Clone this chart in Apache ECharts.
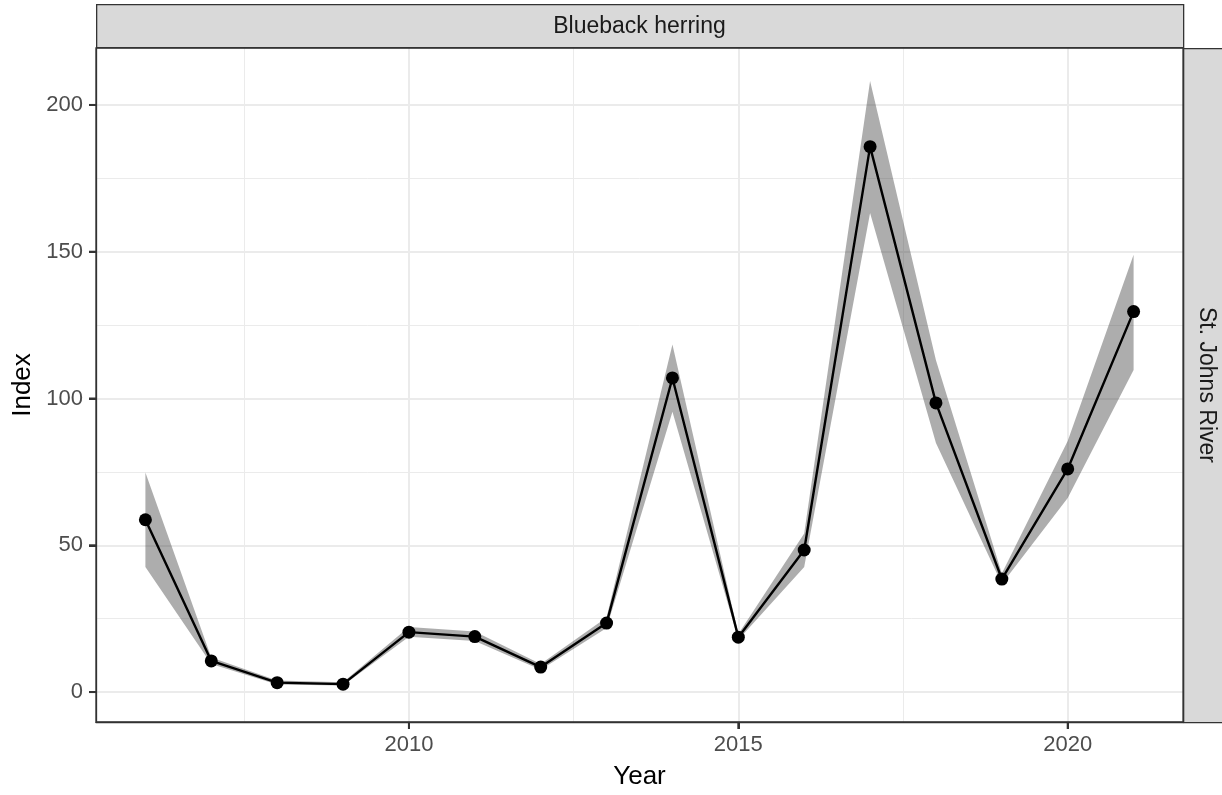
<!DOCTYPE html>
<html>
<head>
<meta charset="utf-8">
<script src="https://cdn.jsdelivr.net/npm/echarts@6/dist/echarts.min.js"></script>
<style>
html,body{margin:0;padding:0;background:#fff;}
#c{width:1222px;height:795px;}
</style>
</head>
<body>
<div id="c"></div>
<script>
const years = [2006,2007,2008,2009,2010,2011,2012,2013,2014,2015,2016,2017,2018,2019,2020,2021];
const indexValues = [58.7,10.6,3.2,2.7,20.4,18.9,8.5,23.5,107.0,18.7,48.4,185.8,98.5,38.5,76.0,129.6];
const lowerValues = [42.6,9.6,2.6,2.2,18.8,17.4,7.6,21.8,95.5,17.8,42.6,163.2,84.8,36.8,66.1,109.7];
const upperValues = [74.8,11.8,3.9,3.3,22.2,20.6,9.6,25.4,118.4,19.8,54.0,208.2,113.0,40.4,85.5,149.0];
const xMajorTicks = [2010,2015,2020];
const xMinorTicks = [2007.5,2012.5,2017.5];
const yMajorTicks = [0,50,100,150,200];
const yMinorTicks = [25,75,125,175];
const speciesLabel = 'Blueback herring';
const riverLabel = 'St. Johns River';

const FONT = 'Liberation Sans, Arial, sans-serif';
const chart = echarts.init(document.getElementById('c'), null, {renderer:'canvas'});
const G = {left:96, right:39, top:48, bottom:73};
const xMin = 2005.25, xMax = 2021.75, yMin = -10.2, yMax = 219.4;
const TICK = 7;

const option = {
  backgroundColor:'#ffffff',
  animation:false,
  grid:{left:G.left, right:G.right, top:G.top, bottom:G.bottom, show:true, borderColor:'#333333', borderWidth:1.3, backgroundColor:'transparent', z:10},
  xAxis:[{
    type:'value', min:xMin, max:xMax, position:'bottom',
    name:'Year', nameLocation:'middle', nameGap:42,
    nameTextStyle:{fontFamily:FONT, fontSize:26, color:'#000'},
    axisLine:{show:true, onZero:false, lineStyle:{color:'#333333', width:1.3}},
    axisTick:{show:true, length:TICK, lineStyle:{color:'#333333', width:2}, customValues:xMajorTicks},
    axisLabel:{color:'#4D4D4D', fontFamily:FONT, fontSize:22, margin:12, customValues:xMajorTicks, formatter:v=>String(v)},
    splitLine:{show:true, lineStyle:{color:'#EBEBEB', width:2}}
  },{
    type:'value', min:xMin, max:xMax, position:'top',
    axisLine:{show:false, onZero:false}, axisTick:{show:false, customValues:xMinorTicks},
    axisLabel:{show:false, customValues:xMinorTicks},
    splitLine:{show:true, lineStyle:{color:'#EBEBEB', width:1}}
  }],
  yAxis:[{
    type:'value', min:yMin, max:yMax, position:'left',
    name:'Index', nameLocation:'middle', nameGap:60, nameRotate:90,
    nameTextStyle:{fontFamily:FONT, fontSize:26, color:'#000'},
    axisLine:{show:true, onZero:false, lineStyle:{color:'#333333', width:1.3}},
    axisTick:{show:true, length:TICK, lineStyle:{color:'#333333', width:2}, customValues:yMajorTicks},
    axisLabel:{color:'#4D4D4D', fontFamily:FONT, fontSize:22, margin:13, customValues:yMajorTicks, formatter:v=>String(v)},
    splitLine:{show:true, lineStyle:{color:'#EBEBEB', width:2}}
  },{
    type:'value', min:yMin, max:yMax, position:'right',
    axisLine:{show:false, onZero:false}, axisTick:{show:false, customValues:yMinorTicks},
    axisLabel:{show:false, customValues:yMinorTicks},
    splitLine:{show:true, lineStyle:{color:'#EBEBEB', width:1}}
  }],
  series:[{
    type:'custom', xAxisIndex:0, yAxisIndex:0, data:[0], z:2, silent:true,
    renderItem:function(params, api){
      const pts = [];
      for (let i=0;i<years.length;i++) pts.push(api.coord([years[i], upperValues[i]]));
      for (let i=years.length-1;i>=0;i--) pts.push(api.coord([years[i], lowerValues[i]]));
      return {type:'polygon', shape:{points:pts}, style:{fill:'rgba(51,51,51,0.4)', stroke:null}};
    }
  },{
    type:'line', xAxisIndex:0, yAxisIndex:0, z:3,
    data: years.map((y,i)=>[y, indexValues[i]]),
    lineStyle:{color:'#000', width:2.4},
    symbol:'circle', symbolSize:13, showSymbol:true,
    itemStyle:{color:'#000', borderWidth:0}
  }],
  graphic:[
    {id:'stripTop', type:'rect', left:96, top:4, shape:{x:0,y:0,width:1087,height:43}, style:{fill:'#D9D9D9', stroke:'#333333', lineWidth:1.3}, z:20},
    {id:'stripTopText', type:'text', x:639.5, y:27, style:{text:speciesLabel, font:'23px Liberation Sans', fill:'#1A1A1A', textAlign:'center', textVerticalAlign:'middle'}, z:21},
    {id:'stripRight', type:'rect', left:1183, top:48, shape:{x:0,y:0,width:60,height:674}, style:{fill:'#D9D9D9', stroke:'#333333', lineWidth:1.3}, z:20},
    {id:'stripRightText', type:'text', x:1206, y:385, rotation:-Math.PI/2, style:{text:riverLabel, font:'23px Liberation Sans', fill:'#1A1A1A', textAlign:'center', textVerticalAlign:'middle'}, z:21}
  ]
};
chart.setOption(option);

// tick marks positioned through the chart's own axis scales
const tickGraphics = [];
xMajorTicks.forEach((v,i)=>{
  const p = chart.convertToPixel({xAxisIndex:0, yAxisIndex:0}, [v, yMin]);
  tickGraphics.push({id:'xt'+i, type:'line', z:30, shape:{x1:p[0], y1:p[1], x2:p[0], y2:p[1]+TICK}, style:{stroke:'#333333', lineWidth:2}});
});
yMajorTicks.forEach((v,i)=>{
  const p = chart.convertToPixel({xAxisIndex:0, yAxisIndex:0}, [xMin, v]);
  tickGraphics.push({id:'yt'+i, type:'line', z:30, shape:{x1:p[0]-TICK, y1:p[1], x2:p[0], y2:p[1]}, style:{stroke:'#333333', lineWidth:2}});
});
chart.setOption({graphic: tickGraphics});
</script>
</body>
</html>
